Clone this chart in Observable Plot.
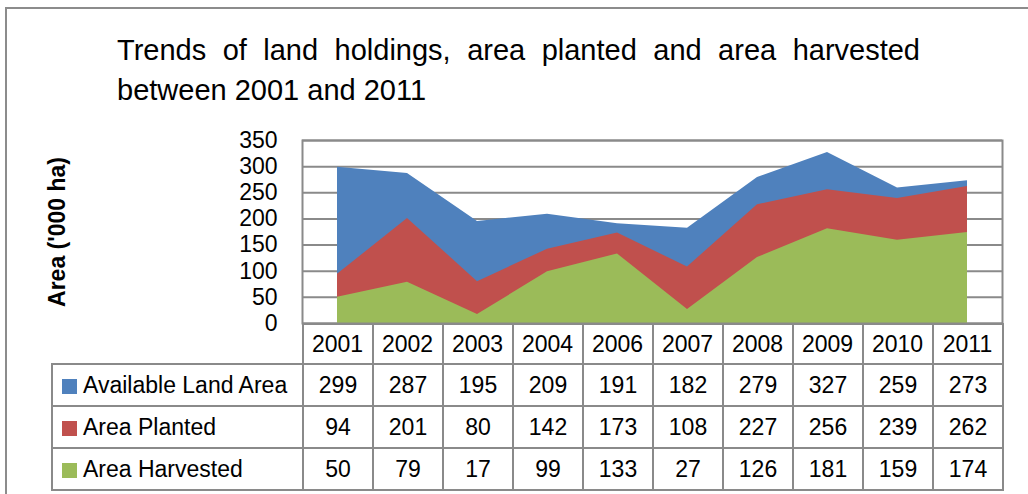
<!DOCTYPE html>
<html><head><meta charset="utf-8">
<script src="https://cdn.jsdelivr.net/npm/d3@7"></script>
<script src="https://cdn.jsdelivr.net/npm/@observablehq/plot@0.6"></script>
<style>
body{margin:0;background:#fff;font-family:"Liberation Sans",Arial,sans-serif;color:#000;}
#wrap{position:relative;width:1028px;height:494px;overflow:hidden;background:#fff;}
#border{position:absolute;left:5px;top:7px;width:1040px;height:520px;border-top:2px solid #8c8c8c;border-left:2px solid #8c8c8c;}
#title{position:absolute;left:117px;top:30px;width:803px;font-size:29px;line-height:40px;}
#title .l1{text-align:justify;text-align-last:justify;}
#chart{position:absolute;left:0;top:130px;}
#ylab{position:absolute;left:57px;top:232px;transform:translate(-50%,-50%) rotate(-90deg);font-weight:bold;font-size:23px;white-space:nowrap;}
table{border-collapse:collapse;position:absolute;left:51px;top:323px;table-layout:fixed;width:951px;font-size:23px;}
td{border:2px solid #8a8a8a;padding:0;text-align:center;white-space:nowrap;overflow:hidden;}
td.blank{border:none;border-bottom:2px solid #8a8a8a;}
td.lab{text-align:left;padding-left:9px;}
.sw{display:inline-block;width:15px;height:15px;margin-right:6px;vertical-align:-1px;}
</style>
</head><body>
<div id="wrap">
  <div id="border"></div>
  <div id="title"><div class="l1">Trends of land holdings, area planted and area harvested</div><div>between 2001 and 2011</div></div>
  <div id="ylab"></div>
  <div id="tbl"></div>
  <div id="chart"></div>
</div>
<script>
const years = ["2001","2002","2003","2004","2006","2007","2008","2009","2010","2011"];
const available = [299,287,195,209,191,182,279,327,259,273];
const planted = [94,201,80,142,173,108,227,256,239,262];
const harvested = [50,79,17,99,133,27,126,181,159,174];
const yTicks = [0,50,100,150,200,250,300,350];
const seriesNames = ["Available Land Area","Area Planted","Area Harvested"];
const seriesValues = [available, planted, harvested];
const colors = ["#4F81BD","#C0504D","#9BBB59"];
const yLabel = "Area ('000 ha)";

document.getElementById("ylab").textContent = yLabel;

const data = years.map((y,i)=>({year:y, available:available[i], planted:planted[i], harvested:harvested[i]}));

// Data table (legend + values)
const tbl = document.createElement("table");
const cg = document.createElement("colgroup");
[251, ...years.map(()=>70)].forEach(w=>{const c=document.createElement("col");c.style.width=w+"px";cg.appendChild(c);});
tbl.appendChild(cg);
let tr = tbl.insertRow(); tr.style.height="40px";
let td = tr.insertCell(); td.className="blank";
years.forEach(()=>{ tr.insertCell(); });
seriesNames.forEach((name,si)=>{
  const r = tbl.insertRow(); r.style.height="42px";
  const c = r.insertCell(); c.className="lab";
  const sw = document.createElement("span"); sw.className="sw"; sw.style.background=colors[si];
  c.appendChild(sw); c.appendChild(document.createTextNode(name));
  seriesValues[si].forEach(v=>{ const cc=r.insertCell(); cc.textContent=v; });
});
document.getElementById("tbl").appendChild(tbl);

const chart = Plot.plot({
  width:1028, height:235,
  marginLeft:302, marginRight:26, marginTop:10, marginBottom:42,
  style:{fontFamily:"'Liberation Sans', Arial, sans-serif", fontSize:"23px", color:"#000", background:"transparent", overflow:"visible"},
  x:{type:"point", domain:years, padding:0.5, label:null},
  y:{domain:[0,350], label:null},
  marks:[
    Plot.gridY(yTicks,{stroke:"#8a8a8a", strokeOpacity:1, strokeWidth:2}),
    Plot.areaY(data,{x:"year", y:"available", fill:colors[0]}),
    Plot.areaY(data,{x:"year", y:"planted", fill:colors[1]}),
    Plot.areaY(data,{x:"year", y:"harvested", fill:colors[2]}),
    Plot.frame({stroke:"#8a8a8a", strokeWidth:2}),
    Plot.axisY(yTicks,{tickSize:0, tickPadding:25, fontSize:23, label:null}),
    Plot.axisX({tickSize:0, tickPadding:12, fontSize:23, label:null})
  ]
});
document.getElementById("chart").appendChild(chart);
</script>
</body></html>
